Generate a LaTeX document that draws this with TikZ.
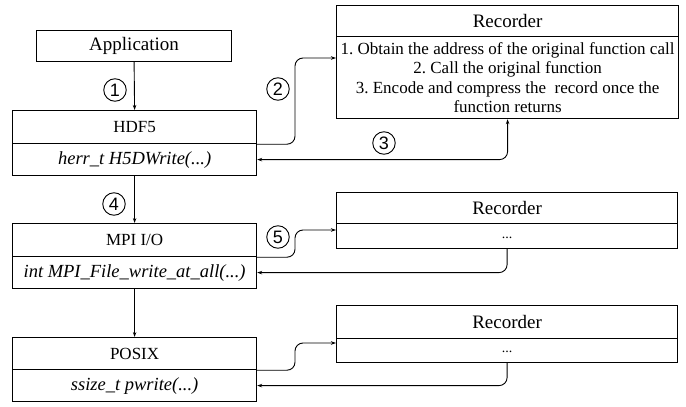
\documentclass[tikz,border=0pt]{standalone}
\usepackage{fontspec}
\setmainfont{Liberation Serif}
\newfontfamily\numfont{Liberation Sans}
\usetikzlibrary{arrows.meta}
\begin{document}
\frenchspacing
\begin{tikzpicture}[x=1pt,y=-1pt,
  box/.style={draw, line width=1.2pt, inner sep=0pt, anchor=north west, align=center,
    font=\fontsize{17}{20}\selectfont},
  api/.style={box, font=\fontsize{18.5}{20}\selectfont\itshape},
  dots/.style={box, font=\fontsize{14}{16}\selectfont},
  conn/.style={line width=0.9pt, rounded corners=8pt, -{Stealth[length=5pt,width=3.5pt]}},
  num/.style={draw, circle, line width=0.9pt, minimum size=22.5pt, inner sep=0pt,
    font=\numfont\fontsize{18}{18}\selectfont}]
\useasboundingbox (0,0) rectangle (686,407);

% left stack
\node[box, minimum width=195pt, minimum height=31pt, font=\fontsize{19}{22}\selectfont] (app) at (36,30) {Application};
\node[box, minimum width=244pt, minimum height=33pt] (hdf) at (12,110) {HDF5};
\node[api, minimum width=244pt, minimum height=32pt] (hdfapi) at (12,143) {herr\_t H5DWrite(...)};
\node[box, minimum width=244pt, minimum height=33pt] (mpi) at (12,223) {MPI I/O};
\node[api, minimum width=244pt, minimum height=32pt] (mpiapi) at (12,256) {int MPI\_File\_write\_at\_all(...)};
\node[box, minimum width=244pt, minimum height=32pt] (posix) at (12,337) {POSIX};
\node[api, minimum width=244pt, minimum height=32pt] (posixapi) at (12,369) {ssize\_t pwrite(...)};

% recorders
\node[box, minimum width=342pt, minimum height=31pt, font=\fontsize{19}{22}\selectfont] (rec1) at (336,5) {Recorder};
\node[box, minimum width=342pt, minimum height=82pt, font=\fontsize{17}{19.5}\selectfont] (rec1b) at (336,36)
  {1. Obtain the address of the original function call\\2. Call the original function\\3. Encode and compress the\ \ record once the\\function returns};
\node[box, minimum width=341pt, minimum height=31pt, font=\fontsize{19}{22}\selectfont] (rec2) at (336,192) {Recorder};
\node[dots, minimum width=341pt, minimum height=25pt] (rec2b) at (336,223) {\raisebox{-4pt}{...}};
\node[box, minimum width=341pt, minimum height=33pt, font=\fontsize{19}{22}\selectfont] (rec3) at (336,305) {Recorder};
\node[dots, minimum width=341pt, minimum height=24pt] (rec3b) at (336,338) {\raisebox{-4pt}{...}};

% connectors
\draw[conn] (app.south) -- (hdf.north);
\draw[conn] (hdf.south east) -| ([xshift=-41pt,yshift=-22pt]rec1b.north west) -- ([yshift=-22pt]rec1b.north west);
\draw[conn, {Stealth[length=5pt,width=3.5pt]}-{Stealth[length=5pt,width=3.5pt]}] (rec1b.south) |- (hdfapi.east);
\draw[conn] (hdfapi.south) -- (mpi.north);
\draw[conn] (mpi.south east) -| ([xshift=-41pt,yshift=-7pt]rec2b.north west) -- ([yshift=-7pt]rec2b.north west);
\draw[conn] (rec2b.south) |- (mpiapi.east);
\draw[conn] (mpiapi.south) -- (posix.north);
\draw[conn] (posix.south east) -| ([xshift=-41pt,yshift=-5pt]rec3b.north west) -- ([yshift=-5pt]rec3b.north west);
\draw[conn] (rec3b.south) |- (posixapi.east);

% step numbers
\node[num] (n1) at (115,90) {1};
\node[num] (n2) at (278,89) {2};
\node[num] (n3) at (384,143) {3};
\node[num] (n4) at (114,204) {4};
\node[num] (n5) at (278,237) {5};
\end{tikzpicture}
\end{document}
